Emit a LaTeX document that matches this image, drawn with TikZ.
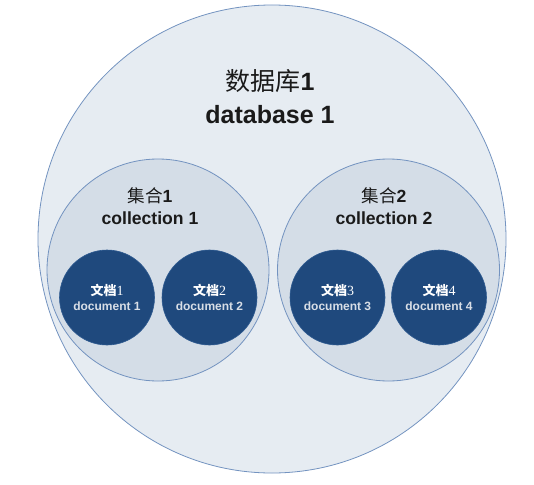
\documentclass[tikz,border=0pt]{standalone}
\usepackage{fontspec}
\setmainfont{Liberation Sans}
\newfontfamily\cjk{Noto Sans CJK SC}
\newfontfamily\numserif{Liberation Serif}

\definecolor{dbfill}{HTML}{E6ECF2}
\definecolor{collfill}{HTML}{D4DDE7}
\definecolor{docfill}{HTML}{1F497D}
\definecolor{ringline}{HTML}{7393C0}
\definecolor{docline}{HTML}{2E5A90}
\definecolor{doctext}{HTML}{D8DEE6}
\definecolor{titletext}{HTML}{1A1A1A}

\begin{document}
\begin{tikzpicture}[
  x=1pt, y=-1pt,
  ring/.style={circle, draw=ringline, line width=0.8pt, inner sep=0pt},
  dbring/.style={ring, fill=dbfill, minimum size=468pt},
  collring/.style={ring, fill=collfill, minimum size=222pt},
  docring/.style={circle, fill=docfill, draw=docline, line width=0.6pt,
                  minimum size=95pt, inner sep=0pt, align=center,
                  text=doctext, font=\bfseries\fontsize{12}{15.3}\selectfont},
  dbtitle/.style={align=center, text=titletext,
                  font=\bfseries\fontsize{25}{33}\selectfont},
  colltitle/.style={align=center, text=titletext,
                    font=\bfseries\fontsize{17.6}{22}\selectfont},
]
\useasboundingbox (0,0) rectangle (534,484);

% ── database ring ─────────────────────────────────────────────────────────────
\node[dbring] (db) at (272,239) {};
\node[dbtitle] (dblabel) at (270,97)
  {{\cjk\mdseries 数据库}1\\database 1};

% ── collection rings ──────────────────────────────────────────────────────────
\node[collring] (coll1) at (158,270) {};
\node[collring] (coll2) at (388.5,270) {};

\node[colltitle] (coll1label) at (150,206)
  {{\cjk\mdseries 集合}1\\collection 1};
\node[colltitle] (coll2label) at (384,206)
  {{\cjk\mdseries 集合}2\\collection 2};

% ── documents ─────────────────────────────────────────────────────────────────
\node[docring] (doc1) at (107,297.5)
  {\textcolor{white}{{\cjk\fontsize{13}{15.3}\selectfont 文档}{\numserif\mdseries\fontsize{14}{15.3}\selectfont 1}}\\document 1};
\node[docring] (doc2) at (209.5,297.5)
  {\textcolor{white}{{\cjk\fontsize{13}{15.3}\selectfont 文档}{\numserif\mdseries\fontsize{14}{15.3}\selectfont 2}}\\document 2};
\node[docring] (doc3) at (337.5,297.5)
  {\textcolor{white}{{\cjk\fontsize{13}{15.3}\selectfont 文档}{\numserif\mdseries\fontsize{14}{15.3}\selectfont 3}}\\document 3};
\node[docring] (doc4) at (439,297.5)
  {\textcolor{white}{{\cjk\fontsize{13}{15.3}\selectfont 文档}{\numserif\mdseries\fontsize{14}{15.3}\selectfont 4}}\\document 4};

\end{tikzpicture}
\end{document}
